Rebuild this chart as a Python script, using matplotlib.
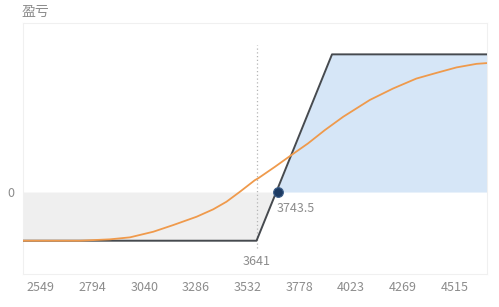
import matplotlib
matplotlib.use("Agg")
import matplotlib.pyplot as plt
import numpy as np

plt.rcParams['font.family'] = ['Noto Sans CJK SC', 'DejaVu Sans']

# payoff of the spread (expiry)
payoff_x = [2529, 3641, 4000, 4736]
payoff_y = [-102.5, -102.5, 290, 290]
lower_strike = 3641
breakeven = 3743.5

# orange curve (current value estimate)
curve_x = [2529, 2801, 2944, 3039, 3150, 3245, 3356, 3435, 3498, 3562, 3633,
           3649, 3728, 3807, 3886, 3966, 4053, 4180, 4290, 4401, 4497, 4592,
           4687, 4736]
curve_y = [-102.5, -102.5, -99.6, -95.4, -83.6, -69.5, -52, -36.4, -20.4, 0.6, 25,
           29, 53, 78, 102.5, 130.5, 158.5, 194, 218, 239, 251, 262.5,
           270, 271.6]

xticks = [2549, 2794, 3040, 3286, 3532, 3778, 4023, 4269, 4515]

GRAY_TXT = "#8c8c8c"

fig = plt.figure(figsize=(4.99, 3.07), dpi=100)
ax = fig.add_axes([0.0455, 0.1075, 0.930, 0.8175])

px = np.linspace(payoff_x[0], payoff_x[-1], 2000)
py = np.interp(px, payoff_x, payoff_y)
ax.fill_between(px, py, 0, where=py <= 0, interpolate=True, color="#efefef", lw=0)
ax.fill_between(px, py, 0, where=py >= 0, interpolate=True, color="#d6e6f7", lw=0)

ax.vlines(lower_strike, -118, 310, colors="#b5b5b5", linestyles=(0, (1, 2)), lw=0.9)
ax.plot(payoff_x, payoff_y, color="#464a4f", lw=1.4, zorder=3)
ax.plot(curve_x, curve_y, color="#ef9a4c", lw=1.3, zorder=4)
ax.plot([breakeven], [0], "o", ms=7, color="#1d3b63", mec="#3d5f8a", mew=0.8, zorder=5)

ax.annotate(f"{breakeven:g}", (breakeven, 0), xytext=(-1, -12), textcoords="offset points",
            ha="left", va="center", fontsize=9, color=GRAY_TXT)
ax.annotate(f"{lower_strike}", (lower_strike, payoff_y[0]), xytext=(0, -15),
            textcoords="offset points", ha="center", va="center", fontsize=9, color=GRAY_TXT)

ax.set_xlim(payoff_x[0], payoff_x[-1])
ax.set_ylim(-172.6, 356)
ax.set_xticks(xticks)
ax.set_xticklabels([str(t) for t in xticks], ha="left")
ax.set_yticks([0])
ax.set_yticklabels(["0"])
ax.tick_params(length=0, labelsize=9, labelcolor=GRAY_TXT)
ax.tick_params(axis="x", pad=5)
ax.tick_params(axis="y", pad=6)
for s in ax.spines.values():
    s.set_color("#f0f0f0")
    s.set_linewidth(0.8)

fig.text(0.044, 0.962, "盈亏", fontsize=10, color=GRAY_TXT, ha="left", va="center")

fig.savefig("out.png", dpi=100)
